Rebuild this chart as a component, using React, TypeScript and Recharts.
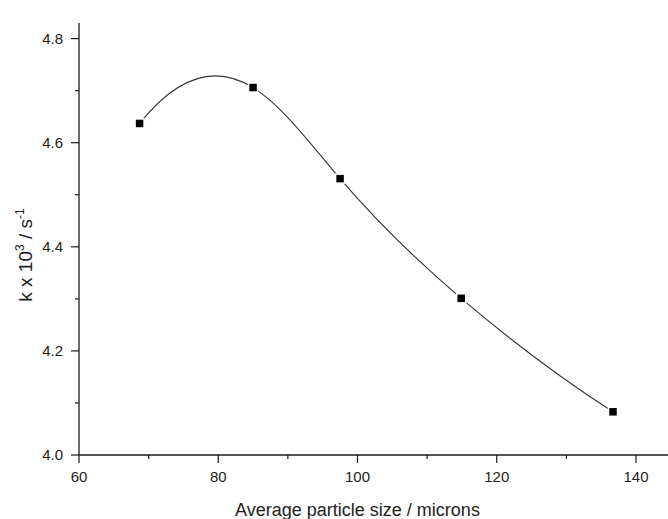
import { Label, Line, LineChart, XAxis, YAxis } from "recharts";

// average particle size (microns) and rate constant k x 10^3 (s^-1)
const particleSize = [68.7, 85.0, 97.5, 114.9, 136.7];
const rateConstant = [4.637, 4.706, 4.531, 4.301, 4.083];

const xTicks = [60, 70, 80, 90, 100, 110, 120, 130, 140];
const xTickLabels = ["60", "80", "100", "120", "140"];
const yTicks = [4.0, 4.1, 4.2, 4.3, 4.4, 4.5, 4.6, 4.7, 4.8];
const yTickLabels = ["4.0", "4.2", "4.4", "4.6", "4.8"];

const data = particleSize.map((size, i) => ({ size, k: rateConstant[i] }));

const FONT = "'Liberation Sans', Arial, sans-serif";
const AXIS_COLOR = "#1a1a1a";
const TICK_SIZE = 8;
const TICK_MARGIN = 8;

// small gaussian elimination, the systems here are 5x5 at most
function solve(a: number[][], b: number[]) {
  const n = b.length;
  const m = a.map((row, i) => [...row, b[i]]);
  for (let c = 0; c < n; c++) {
    let p = c;
    for (let r = c + 1; r < n; r++) if (Math.abs(m[r][c]) > Math.abs(m[p][c])) p = r;
    [m[c], m[p]] = [m[p], m[c]];
    for (let r = c + 1; r < n; r++) {
      const f = m[r][c] / m[c][c];
      for (let k = c; k <= n; k++) m[r][k] -= f * m[c][k];
    }
  }
  const x = new Array(n).fill(0);
  for (let r = n - 1; r >= 0; r--) {
    let s = m[r][n];
    for (let k = r + 1; k < n; k++) s -= m[r][k] * x[k];
    x[r] = s / m[r][r];
  }
  return x;
}

// cubic spline with parabolic run-out ends, used as a d3 curve factory
function splineCurve(context: any) {
  let pts: [number, number][] = [];
  return {
    areaStart() {},
    areaEnd() {},
    lineStart() {
      pts = [];
    },
    point(x: number, y: number) {
      pts.push([+x, +y]);
    },
    lineEnd() {
      const n = pts.length;
      if (!n) return;
      context.moveTo(pts[0][0], pts[0][1]);
      if (n < 3) {
        for (let i = 1; i < n; i++) context.lineTo(pts[i][0], pts[i][1]);
        return;
      }
      const h = pts.slice(1).map((p, i) => p[0] - pts[i][0]);
      const A: number[][] = [];
      const B: number[] = [];
      const row0 = new Array(n).fill(0);
      row0[0] = 1;
      row0[1] = -1;
      A.push(row0);
      B.push(0);
      for (let i = 1; i < n - 1; i++) {
        const row = new Array(n).fill(0);
        row[i - 1] = h[i - 1];
        row[i] = 2 * (h[i - 1] + h[i]);
        row[i + 1] = h[i];
        A.push(row);
        B.push(
          6 *
            ((pts[i + 1][1] - pts[i][1]) / h[i] -
              (pts[i][1] - pts[i - 1][1]) / h[i - 1]),
        );
      }
      const rowN = new Array(n).fill(0);
      rowN[n - 2] = -1;
      rowN[n - 1] = 1;
      A.push(rowN);
      B.push(0);
      const M = solve(A, B);
      for (let i = 0; i < n - 1; i++) {
        const hi = h[i];
        const slope = (pts[i + 1][1] - pts[i][1]) / hi;
        const d0 = slope - (hi * (2 * M[i] + M[i + 1])) / 6;
        const d1 = slope + (hi * (M[i] + 2 * M[i + 1])) / 6;
        context.bezierCurveTo(
          pts[i][0] + hi / 3,
          pts[i][1] + (hi / 3) * d0,
          pts[i + 1][0] - hi / 3,
          pts[i + 1][1] - (hi / 3) * d1,
          pts[i + 1][0],
          pts[i + 1][1],
        );
      }
    },
  };
}

function XTick({ x, y, payload }: any) {
  const label = String(payload.value);
  const major = xTickLabels.includes(label);
  const axisY = y - TICK_SIZE - TICK_MARGIN;
  return (
    <g>
      <line
        x1={x}
        x2={x}
        y1={axisY}
        y2={axisY + (major ? 8 : 4)}
        stroke={AXIS_COLOR}
        strokeWidth={1.2}
      />
      {major && (
        <text
          x={x}
          y={y}
          dy="0.71em"
          textAnchor="middle"
          fontSize={15}
          fontFamily={FONT}
          fill="#222"
        >
          {label}
        </text>
      )}
    </g>
  );
}

function YTick({ x, y, payload }: any) {
  const label = Number(payload.value).toFixed(1);
  const major = yTickLabels.includes(label);
  const axisX = x + TICK_SIZE + TICK_MARGIN;
  return (
    <g>
      <line
        x1={axisX - (major ? 8 : 4)}
        x2={axisX}
        y1={y}
        y2={y}
        stroke={AXIS_COLOR}
        strokeWidth={1.2}
      />
      {major && (
        <text
          x={x}
          y={y}
          dy="0.355em"
          textAnchor="end"
          fontSize={15}
          fontFamily={FONT}
          fill="#222"
        >
          {label}
        </text>
      )}
    </g>
  );
}

function SquareDot({ cx, cy }: any) {
  if (cx == null || cy == null) return null;
  return (
    <rect
      x={cx - 4.5}
      y={cy - 4.5}
      width={9}
      height={9}
      fill="#000"
      stroke="#fff"
      strokeWidth={1.5}
    />
  );
}

function YTitle({ viewBox }: any) {
  const x = 32;
  const y = viewBox.y + viewBox.height / 2 + 16;
  return (
    <text
      x={x}
      y={y}
      transform={`rotate(-90, ${x}, ${y})`}
      textAnchor="middle"
      fontSize={19}
      fontFamily={FONT}
      fill="#222"
    >
      <tspan>k x 10</tspan>
      <tspan dy={-8} fontSize={12}>
        3
      </tspan>
      <tspan dy={8}> / s</tspan>
      <tspan dy={-8} fontSize={12}>
        -1
      </tspan>
    </text>
  );
}

export default function App() {
  return (
    <div
      style={{
        position: "absolute",
        left: 0,
        top: 0,
        width: 668,
        height: 519,
        background: "#fff",
      }}
    >
      <LineChart
        width={668}
        height={519}
        data={data}
        margin={{ top: 23, right: 0, bottom: 0, left: 0 }}
      >
        <XAxis
          type="number"
          dataKey="size"
          domain={[60, 144.6]}
          ticks={xTicks}
          interval={0}
          height={64}
          tickSize={TICK_SIZE}
          tickMargin={TICK_MARGIN}
          tickLine={false}
          tick={<XTick />}
          axisLine={{ stroke: AXIS_COLOR, strokeWidth: 1.3 }}
        >
          <Label
            value="Average particle size / microns"
            position="insideBottom"
            offset={3}
            dx={-16}
            fontSize={18}
            fontFamily={FONT}
            fill="#222"
          />
        </XAxis>
        <YAxis
          type="number"
          dataKey="k"
          domain={[4.0, 4.83]}
          ticks={yTicks}
          interval={0}
          width={79}
          tickSize={TICK_SIZE}
          tickMargin={TICK_MARGIN}
          tickLine={false}
          tick={<YTick />}
          axisLine={{ stroke: AXIS_COLOR, strokeWidth: 1.3 }}
        >
          <Label content={<YTitle />} />
        </YAxis>
        <Line
          type={splineCurve as any}
          dataKey="k"
          stroke="#333"
          strokeWidth={1.1}
          dot={<SquareDot />}
          activeDot={false}
          isAnimationActive={false}
        />
      </LineChart>
    </div>
  );
}
